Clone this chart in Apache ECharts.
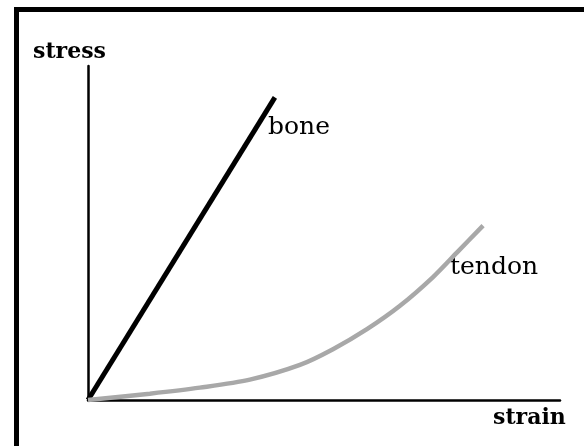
<!DOCTYPE html>
<html>
<head>
<meta charset="utf-8">
<script src="https://cdn.jsdelivr.net/npm/echarts@6/dist/echarts.min.js"></script>
<style>html,body{margin:0;padding:0;background:#fff}#c{width:584px;height:446px}</style>
</head>
<body>
<div id="c"></div>
<script>
// data (strain, stress) in arbitrary units
const boneStrain = [0, 3.96];
const boneStress = [0, 9.06];
const tendonStrain = [0, 1.31, 2.37, 3.43, 4.49, 5.19, 5.91, 6.61, 7.31, 7.82, 8.37];
const tendonStress = [0, 0.19, 0.37, 0.61, 1.05, 1.52, 2.12, 2.82, 3.68, 4.42, 5.22];
const axisNames = { x: 'strain', y: 'stress' };
const seriesNames = ['bone', 'tendon'];

const zip = (a, b) => a.map((v, i) => [v, b[i]]);
const serif = '"DejaVu Serif", "Liberation Serif", serif';

const chart = echarts.init(document.getElementById('c'), null, { renderer: 'canvas' });
chart.setOption({
  animation: false,
  backgroundColor: '#fff',
  grid: { left: 88, top: 66, width: 472, height: 334, containLabel: false },
  xAxis: {
    type: 'value', min: 0, max: 10,
    axisLine: { show: true, onZero: false, lineStyle: { color: '#000', width: 2.5 } },
    axisTick: { show: false }, axisLabel: { show: false }, splitLine: { show: false }
  },
  yAxis: {
    type: 'value', min: 0, max: 10,
    axisLine: { show: true, onZero: false, lineStyle: { color: '#000', width: 2.5 } },
    axisTick: { show: false }, axisLabel: { show: false }, splitLine: { show: false }
  },
  series: [
    {
      name: seriesNames[0], type: 'line', data: zip(boneStrain, boneStress),
      showSymbol: false, symbol: 'none', clip: false,
      lineStyle: { color: '#000', width: 5 }
    },
    {
      name: seriesNames[1], type: 'line', data: zip(tendonStrain, tendonStress),
      showSymbol: false, symbol: 'none', clip: false, smooth: 0.3,
      lineStyle: { color: '#a8a8a8', width: 4.5 }
    }
  ],
  graphic: [
    { type: 'rect', shape: { x: 14, y: 7, width: 570, height: 5 }, style: { fill: '#000' }, silent: true },
    { type: 'rect', shape: { x: 14, y: 7, width: 5, height: 439 }, style: { fill: '#000' }, silent: true },
    { type: 'text', style: { text: axisNames.y, x: 33, y: 52, font: 'bold 22px ' + serif, fill: '#000', textVerticalAlign: 'middle' } },
    { type: 'text', style: { text: axisNames.x, x: 493, y: 418, font: 'bold 22px ' + serif, fill: '#000', textVerticalAlign: 'middle' } },
    { type: 'text', style: { text: seriesNames[0], x: 268, y: 127, font: '25px ' + serif, fill: '#000', textVerticalAlign: 'middle' } },
    { type: 'text', style: { text: seriesNames[1], x: 450, y: 267, font: '25px ' + serif, fill: '#000', textVerticalAlign: 'middle' } }
  ]
});
</script>
</body>
</html>
